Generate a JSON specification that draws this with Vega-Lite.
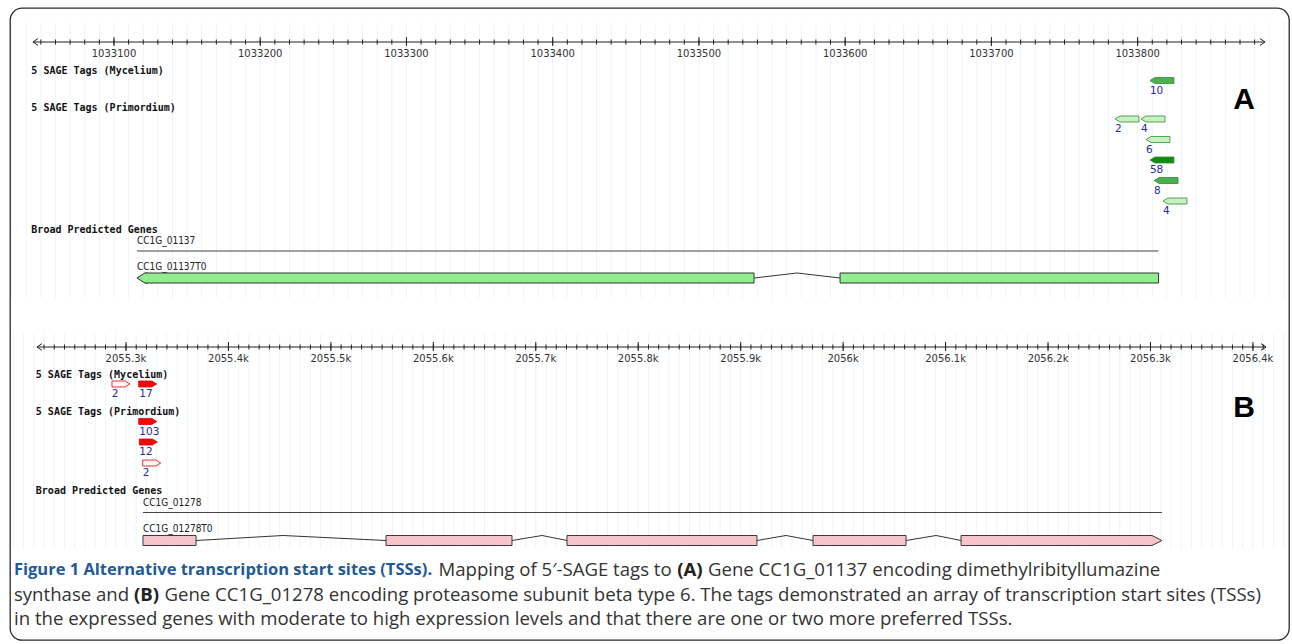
{
"$schema": "https://vega.github.io/schema/vega-lite/v6.json",
"width": 1292,
"height": 644,
"autosize": {"type": "fit", "contains": "padding"},
"padding": {"left": 10, "top": 8, "right": 3, "bottom": 4},
"background": "#ffffff",
"config": {"view": {"stroke": "#2b2b2b", "strokeWidth": 1.3, "cornerRadius": 12}},
"resolve": {"scale": {"x": "independent", "fill": "independent"}, "axis": {"x": "independent"}},
"datasets": {
"gridA": [{"g":1033030},{"g":1033040},{"g":1033050},{"g":1033060},{"g":1033070},{"g":1033080},{"g":1033090},
{"g":1033100},{"g":1033110},{"g":1033120},{"g":1033130},{"g":1033140},{"g":1033150},{"g":1033160},{"g":1033170},{"g":1033180},{"g":1033190},
{"g":1033200},{"g":1033210},{"g":1033220},{"g":1033230},{"g":1033240},{"g":1033250},{"g":1033260},{"g":1033270},{"g":1033280},{"g":1033290},
{"g":1033300},{"g":1033310},{"g":1033320},{"g":1033330},{"g":1033340},{"g":1033350},{"g":1033360},{"g":1033370},{"g":1033380},{"g":1033390},
{"g":1033400},{"g":1033410},{"g":1033420},{"g":1033430},{"g":1033440},{"g":1033450},{"g":1033460},{"g":1033470},{"g":1033480},{"g":1033490},
{"g":1033500},{"g":1033510},{"g":1033520},{"g":1033530},{"g":1033540},{"g":1033550},{"g":1033560},{"g":1033570},{"g":1033580},{"g":1033590},
{"g":1033600},{"g":1033610},{"g":1033620},{"g":1033630},{"g":1033640},{"g":1033650},{"g":1033660},{"g":1033670},{"g":1033680},{"g":1033690},
{"g":1033700},{"g":1033710},{"g":1033720},{"g":1033730},{"g":1033740},{"g":1033750},{"g":1033760},{"g":1033770},{"g":1033780},{"g":1033790},
{"g":1033800},{"g":1033810},{"g":1033820},{"g":1033830},{"g":1033840},{"g":1033850},{"g":1033860},{"g":1033870},{"g":1033880},{"g":1033890},
{"g":1033900}],
"gridB": [{"g":2055190},
{"g":2055200},{"g":2055210},{"g":2055220},{"g":2055230},{"g":2055240},{"g":2055250},{"g":2055260},{"g":2055270},{"g":2055280},{"g":2055290},
{"g":2055300},{"g":2055310},{"g":2055320},{"g":2055330},{"g":2055340},{"g":2055350},{"g":2055360},{"g":2055370},{"g":2055380},{"g":2055390},
{"g":2055400},{"g":2055410},{"g":2055420},{"g":2055430},{"g":2055440},{"g":2055450},{"g":2055460},{"g":2055470},{"g":2055480},{"g":2055490},
{"g":2055500},{"g":2055510},{"g":2055520},{"g":2055530},{"g":2055540},{"g":2055550},{"g":2055560},{"g":2055570},{"g":2055580},{"g":2055590},
{"g":2055600},{"g":2055610},{"g":2055620},{"g":2055630},{"g":2055640},{"g":2055650},{"g":2055660},{"g":2055670},{"g":2055680},{"g":2055690},
{"g":2055700},{"g":2055710},{"g":2055720},{"g":2055730},{"g":2055740},{"g":2055750},{"g":2055760},{"g":2055770},{"g":2055780},{"g":2055790},
{"g":2055800},{"g":2055810},{"g":2055820},{"g":2055830},{"g":2055840},{"g":2055850},{"g":2055860},{"g":2055870},{"g":2055880},{"g":2055890},
{"g":2055900},{"g":2055910},{"g":2055920},{"g":2055930},{"g":2055940},{"g":2055950},{"g":2055960},{"g":2055970},{"g":2055980},{"g":2055990},
{"g":2056000},{"g":2056010},{"g":2056020},{"g":2056030},{"g":2056040},{"g":2056050},{"g":2056060},{"g":2056070},{"g":2056080},{"g":2056090},
{"g":2056100},{"g":2056110},{"g":2056120},{"g":2056130},{"g":2056140},{"g":2056150},{"g":2056160},{"g":2056170},{"g":2056180},{"g":2056190},
{"g":2056200},{"g":2056210},{"g":2056220},{"g":2056230},{"g":2056240},{"g":2056250},{"g":2056260},{"g":2056270},{"g":2056280},{"g":2056290},
{"g":2056300},{"g":2056310},{"g":2056320},{"g":2056330},{"g":2056340},{"g":2056350},{"g":2056360},{"g":2056370},{"g":2056380},{"g":2056390},
{"g":2056400},{"g":2056410},{"g":2056420},{"g":2056430}],
"majorA": [{"g":1033100,"label":"1033100"},{"g":1033200,"label":"1033200"},{"g":1033300,"label":"1033300"},{"g":1033400,"label":"1033400"},{"g":1033500,"label":"1033500"},{"g":1033600,"label":"1033600"},{"g":1033700,"label":"1033700"},{"g":1033800,"label":"1033800"}],
"majorB": [{"g":2055300,"label":"2055.3k"},{"g":2055400,"label":"2055.4k"},{"g":2055500,"label":"2055.5k"},{"g":2055600,"label":"2055.6k"},{"g":2055700,"label":"2055.7k"},{"g":2055800,"label":"2055.8k"},{"g":2055900,"label":"2055.9k"},{"g":2056000,"label":"2056k"},{"g":2056100,"label":"2056.1k"},{"g":2056200,"label":"2056.2k"},{"g":2056300,"label":"2056.3k"},{"g":2056400,"label":"2056.4k"}],
"axisA": [{"from": 1033044.6, "to": 1033887.1}],
"axisB": [{"from": 2055213.1, "to": 2056412.8}],
"axisEndsA": [{"pos": 1033044.6, "dir": "left"}, {"pos": 1033887.1, "dir": "right"}],
"axisEndsB": [{"pos": 2055213.1, "dir": "left"}, {"pos": 2056412.8, "dir": "right"}],
"tracksA": [{"text": "5 SAGE Tags (Mycelium)", "lane": 6.3}, {"text": "5 SAGE Tags (Primordium)", "lane": 10.0}, {"text": "Broad Predicted Genes", "lane": 22.2}],
"tracksB": [{"text": "5 SAGE Tags (Mycelium)", "lane": 36.7}, {"text": "5 SAGE Tags (Primordium)", "lane": 40.4}, {"text": "Broad Predicted Genes", "lane": 48.3}],
"tagsA": [
{"library": "Mycelium", "count": 10, "start": 1033808.4, "end": 1033824.9, "lane": 7.25},
{"library": "Primordium", "count": 2, "start": 1033784.5, "end": 1033800.2, "lane": 11.1},
{"library": "Primordium", "count": 4, "start": 1033802.3, "end": 1033818.0, "lane": 11.1},
{"library": "Primordium", "count": 6, "start": 1033805.7, "end": 1033821.4, "lane": 13.15},
{"library": "Primordium", "count": 58, "start": 1033808.4, "end": 1033824.9, "lane": 15.2},
{"library": "Primordium", "count": 8, "start": 1033811.2, "end": 1033827.6, "lane": 17.25},
{"library": "Primordium", "count": 4, "start": 1033817.3, "end": 1033834.4, "lane": 19.3}],
"tagsB": [
{"library": "Mycelium", "count": 2, "start": 2055286.1, "end": 2055303.9, "lane": 37.6},
{"library": "Mycelium", "count": 17, "start": 2055313.0, "end": 2055330.0, "lane": 37.6},
{"library": "Primordium", "count": 103, "start": 2055313.0, "end": 2055330.0, "lane": 41.35},
{"library": "Primordium", "count": 12, "start": 2055313.0, "end": 2055330.6, "lane": 43.4},
{"library": "Primordium", "count": 2, "start": 2055316.3, "end": 2055333.9, "lane": 45.5}],
"geneA": [{"gene": "CC1G_01137", "start": 1033115.7, "end": 1033814.3}],
"geneB": [{"gene": "CC1G_01278", "start": 2055316.6, "end": 2056311.2}],
"labelsA": [{"text": "CC1G_01137", "pos": 1033115.7, "lane": 23.3}, {"text": "CC1G_01137T0", "pos": 1033115.7, "lane": 25.9}],
"labelsB": [{"text": "CC1G_01278", "pos": 2055316.6, "lane": 49.5}, {"text": "CC1G_01278T0", "pos": 2055316.6, "lane": 52.1}],
"exonsA": [{"start": 1033121.2, "end": 1033537.7}, {"start": 1033596.5, "end": 1033814.3}],
"exonsB": [{"start": 2055316.6, "end": 2055368.4}, {"start": 2055553.8, "end": 2055676.8}, {"start": 2055730.5, "end": 2055915.9}, {"start": 2055970.6, "end": 2056061.4}, {"start": 2056115.1, "end": 2056301.5}],
"intronsA": [{"a": 1033537.7, "m": 1033567.1, "b": 1033596.5}],
"intronsB": [{"a": 2055368.4, "m": 2055453.3, "b": 2055553.8}, {"a": 2055676.8, "m": 2055706.1, "b": 2055730.5}, {"a": 2055915.9, "m": 2055944.2, "b": 2055970.6}, {"a": 2056061.4, "m": 2056090.7, "b": 2056115.1}],
"tipA": [{"pos": 1033115.7}],
"tipB": [{"pos": 2056311.2}],
"caption": [
{"id": "h1", "lane": 56.2, "text": "Figure 1 Alternative transcription start sites (TSSs)."},
{"id": "r1", "lane": 56.2, "text": "Mapping of 5′-SAGE tags to"},
{"id": "b1", "lane": 56.2, "text": "(A)"},
{"id": "s1", "lane": 56.2, "text": "Gene CC1G_01137 encoding dimethylribityllumazine"},
{"id": "r2", "lane": 58.7, "text": "synthase and"},
{"id": "b2", "lane": 58.7, "text": "(B)"},
{"id": "s2", "lane": 58.7, "text": "Gene CC1G_01278 encoding proteasome subunit beta type 6. The tags demonstrated an array of transcription start sites (TSSs)"},
{"id": "r3", "lane": 61.1, "text": "in the expressed genes with moderate to high expression levels and that there are one or two more preferred TSSs."}]
},
"layer": [
{
"layer": [
{"data": {"name": "gridA"}, "mark": {"type": "rule", "color": "#ebf5f9", "strokeWidth": 1},
 "encoding": {"x": {"field": "g", "type": "quantitative", "scale": {"domain": [1033028.9, 1033903.5], "nice": false, "zero": false}, "axis": null},
  "y": {"datum": 1.5, "type": "quantitative", "scale": {"domain": [0, 63.2], "reverse": true, "nice": false, "zero": false}, "axis": null}, "y2": {"datum": 29.0}}},
{"data": {"name": "gridA"}, "transform": [{"filter": {"field": "g", "range": [1033045, 1033887]}}], "mark": {"type": "rule", "color": "#222222", "strokeWidth": 1},
 "encoding": {"x": {"field": "g", "type": "quantitative", "scale": {"domain": [1033028.9, 1033903.5], "nice": false, "zero": false}, "axis": null},
  "y": {"datum": 3.15, "type": "quantitative", "scale": {"domain": [0, 63.2], "reverse": true, "nice": false, "zero": false}, "axis": null}, "y2": {"datum": 3.65}}},
{"data": {"name": "majorA"}, "mark": {"type": "rule", "color": "#222222", "strokeWidth": 1},
 "encoding": {"x": {"field": "g", "type": "quantitative", "scale": {"domain": [1033028.9, 1033903.5], "nice": false, "zero": false}, "axis": null},
  "y": {"datum": 2.9, "type": "quantitative", "scale": {"domain": [0, 63.2], "reverse": true, "nice": false, "zero": false}, "axis": null}, "y2": {"datum": 3.8}}},
{"data": {"name": "majorA"}, "mark": {"type": "text", "align": "center", "baseline": "middle", "font": "DejaVu Sans", "fontSize": 10, "color": "#333333"},
 "encoding": {"x": {"field": "g", "type": "quantitative", "scale": {"domain": [1033028.9, 1033903.5], "nice": false, "zero": false}, "axis": null},
  "y": {"datum": 4.55, "type": "quantitative", "scale": {"domain": [0, 63.2], "reverse": true, "nice": false, "zero": false}, "axis": null},
  "text": {"field": "label"}}},
{"data": {"name": "axisA"}, "mark": {"type": "rule", "color": "#222222", "strokeWidth": 1},
 "encoding": {"x": {"field": "from", "type": "quantitative", "scale": {"domain": [1033028.9, 1033903.5], "nice": false, "zero": false}, "axis": null},
  "x2": {"field": "to"},
  "y": {"datum": 3.4, "type": "quantitative", "scale": {"domain": [0, 63.2], "reverse": true, "nice": false, "zero": false}, "axis": null}}},
{"data": {"name": "axisEndsA"}, "mark": {"type": "point", "filled": false, "size": 44, "color": "#222222", "strokeWidth": 1, "opacity": 1},
 "encoding": {"x": {"field": "pos", "type": "quantitative", "scale": {"domain": [1033028.9, 1033903.5], "nice": false, "zero": false}, "axis": null},
  "y": {"datum": 3.4, "type": "quantitative", "scale": {"domain": [0, 63.2], "reverse": true, "nice": false, "zero": false}, "axis": null},
  "shape": {"field": "dir", "type": "nominal", "scale": {"domain": ["left", "right"], "range": ["M1.5,-1L0,0L1.5,1", "M-1.5,-1L0,0L-1.5,1"]}, "legend": null}}},
{"data": {"name": "tracksA"}, "mark": {"type": "text", "align": "left", "baseline": "middle", "font": "DejaVu Sans Mono", "fontSize": 10, "fontWeight": "bold", "color": "#111111"},
 "encoding": {"x": {"datum": 1033043.5, "type": "quantitative", "scale": {"domain": [1033028.9, 1033903.5], "nice": false, "zero": false}, "axis": null},
  "y": {"field": "lane", "type": "quantitative", "scale": {"domain": [0, 63.2], "reverse": true, "nice": false, "zero": false}, "axis": null},
  "text": {"field": "text"}}},
{"data": {"name": "tagsA"}, "mark": {"type": "point", "shape": "M0,0L0.42,-0.25L2,-0.25L2,0.25L0.42,0.25Z", "size": 576, "filled": true, "opacity": 1, "stroke": "#2f8f2f", "strokeWidth": 0.8},
 "encoding": {"x": {"field": "start", "type": "quantitative", "scale": {"domain": [1033028.9, 1033903.5], "nice": false, "zero": false}, "axis": null},
  "y": {"field": "lane", "type": "quantitative", "scale": {"domain": [0, 63.2], "reverse": true, "nice": false, "zero": false}, "axis": null},
  "fill": {"field": "count", "type": "quantitative", "scale": {"type": "threshold", "domain": [7, 30], "range": ["#c8f0c2", "#4caf50", "#138a13"]}, "legend": null}}},
{"data": {"name": "tagsA"}, "mark": {"type": "text", "align": "left", "baseline": "middle", "dy": 10, "font": "DejaVu Sans", "fontSize": 10.5, "color": "#2b2b9a"},
 "encoding": {"x": {"field": "start", "type": "quantitative", "scale": {"domain": [1033028.9, 1033903.5], "nice": false, "zero": false}, "axis": null},
  "y": {"field": "lane", "type": "quantitative", "scale": {"domain": [0, 63.2], "reverse": true, "nice": false, "zero": false}, "axis": null},
  "text": {"field": "count"}}},
{"data": {"values": [{"panel": "A"}]}, "mark": {"type": "text", "align": "center", "baseline": "middle", "font": "Liberation Sans", "fontSize": 30, "fontWeight": "bold", "color": "#000000"},
 "encoding": {"x": {"datum": 1033872.7, "type": "quantitative", "scale": {"domain": [1033028.9, 1033903.5], "nice": false, "zero": false}, "axis": null},
  "y": {"datum": 9.15, "type": "quantitative", "scale": {"domain": [0, 63.2], "reverse": true, "nice": false, "zero": false}, "axis": null},
  "text": {"field": "panel"}}},
{"data": {"name": "geneA"}, "mark": {"type": "rule", "color": "#444444", "strokeWidth": 1.2},
 "encoding": {"x": {"field": "start", "type": "quantitative", "scale": {"domain": [1033028.9, 1033903.5], "nice": false, "zero": false}, "axis": null},
  "x2": {"field": "end"},
  "y": {"datum": 24.3, "type": "quantitative", "scale": {"domain": [0, 63.2], "reverse": true, "nice": false, "zero": false}, "axis": null}}},
{"data": {"name": "labelsA"}, "mark": {"type": "text", "align": "left", "baseline": "middle", "font": "DejaVu Sans Condensed", "fontSize": 10, "color": "#222222"},
 "encoding": {"x": {"field": "pos", "type": "quantitative", "scale": {"domain": [1033028.9, 1033903.5], "nice": false, "zero": false}, "axis": null},
  "y": {"field": "lane", "type": "quantitative", "scale": {"domain": [0, 63.2], "reverse": true, "nice": false, "zero": false}, "axis": null},
  "text": {"field": "text"}}},
{"data": {"name": "intronsA"}, "mark": {"type": "rule", "color": "#333333", "strokeWidth": 1},
 "encoding": {"x": {"field": "a", "type": "quantitative", "scale": {"domain": [1033028.9, 1033903.5], "nice": false, "zero": false}, "axis": null},
  "x2": {"field": "m"},
  "y": {"datum": 27.0, "type": "quantitative", "scale": {"domain": [0, 63.2], "reverse": true, "nice": false, "zero": false}, "axis": null}, "y2": {"datum": 26.5}}},
{"data": {"name": "intronsA"}, "mark": {"type": "rule", "color": "#333333", "strokeWidth": 1},
 "encoding": {"x": {"field": "m", "type": "quantitative", "scale": {"domain": [1033028.9, 1033903.5], "nice": false, "zero": false}, "axis": null},
  "x2": {"field": "b"},
  "y": {"datum": 26.5, "type": "quantitative", "scale": {"domain": [0, 63.2], "reverse": true, "nice": false, "zero": false}, "axis": null}, "y2": {"datum": 27.0}}},
{"data": {"name": "exonsA"}, "mark": {"type": "rect", "fill": "#90ee90", "stroke": "#333333", "strokeWidth": 1},
 "encoding": {"x": {"field": "start", "type": "quantitative", "scale": {"domain": [1033028.9, 1033903.5], "nice": false, "zero": false}, "axis": null},
  "x2": {"field": "end"},
  "y": {"datum": 26.5, "type": "quantitative", "scale": {"domain": [0, 63.2], "reverse": true, "nice": false, "zero": false}, "axis": null}, "y2": {"datum": 27.5}}},
{"data": {"name": "tipA"}, "mark": {"type": "point", "shape": "M2.2,-1L1.6,-1L0,0L1.6,1L2.2,1", "size": 100, "filled": true, "fill": "#90ee90", "stroke": "#333333", "strokeWidth": 1, "opacity": 1},
 "encoding": {"x": {"field": "pos", "type": "quantitative", "scale": {"domain": [1033028.9, 1033903.5], "nice": false, "zero": false}, "axis": null},
  "y": {"datum": 27.0, "type": "quantitative", "scale": {"domain": [0, 63.2], "reverse": true, "nice": false, "zero": false}, "axis": null}}},
{"data": {"name": "caption"}, "transform": [{"filter": "datum.id === 'h1'"}], "mark": {"type": "text", "align": "left", "baseline": "middle", "font": "Open Sans", "fontSize": 16.5, "fontWeight": "bold", "color": "#1f5b98"},
 "encoding": {"x": {"datum": 1033031.6, "type": "quantitative", "scale": {"domain": [1033028.9, 1033903.5], "nice": false, "zero": false}, "axis": null},
  "y": {"field": "lane", "type": "quantitative", "scale": {"domain": [0, 63.2], "reverse": true, "nice": false, "zero": false}, "axis": null}, "text": {"field": "text"}}},
{"data": {"name": "caption"}, "transform": [{"filter": "datum.id === 'r1'"}], "mark": {"type": "text", "align": "left", "baseline": "middle", "dx": 424.5, "font": "Open Sans", "fontSize": 18.6, "color": "#333333"},
 "encoding": {"x": {"datum": 1033031.6, "type": "quantitative", "scale": {"domain": [1033028.9, 1033903.5], "nice": false, "zero": false}, "axis": null},
  "y": {"field": "lane", "type": "quantitative", "scale": {"domain": [0, 63.2], "reverse": true, "nice": false, "zero": false}, "axis": null}, "text": {"field": "text"}}},
{"data": {"name": "caption"}, "transform": [{"filter": "datum.id === 'b1'"}], "mark": {"type": "text", "align": "left", "baseline": "middle", "dx": 663.2, "font": "Open Sans", "fontSize": 18.6, "fontWeight": "bold", "color": "#222222"},
 "encoding": {"x": {"datum": 1033031.6, "type": "quantitative", "scale": {"domain": [1033028.9, 1033903.5], "nice": false, "zero": false}, "axis": null},
  "y": {"field": "lane", "type": "quantitative", "scale": {"domain": [0, 63.2], "reverse": true, "nice": false, "zero": false}, "axis": null}, "text": {"field": "text"}}},
{"data": {"name": "caption"}, "transform": [{"filter": "datum.id === 's1'"}], "mark": {"type": "text", "align": "left", "baseline": "middle", "dx": 694.0, "font": "Open Sans", "fontSize": 18.6, "color": "#333333"},
 "encoding": {"x": {"datum": 1033031.6, "type": "quantitative", "scale": {"domain": [1033028.9, 1033903.5], "nice": false, "zero": false}, "axis": null},
  "y": {"field": "lane", "type": "quantitative", "scale": {"domain": [0, 63.2], "reverse": true, "nice": false, "zero": false}, "axis": null}, "text": {"field": "text"}}},
{"data": {"name": "caption"}, "transform": [{"filter": "datum.id === 'r2' || datum.id === 'r3'"}], "mark": {"type": "text", "align": "left", "baseline": "middle", "font": "Open Sans", "fontSize": 18.6, "color": "#333333"},
 "encoding": {"x": {"datum": 1033031.6, "type": "quantitative", "scale": {"domain": [1033028.9, 1033903.5], "nice": false, "zero": false}, "axis": null},
  "y": {"field": "lane", "type": "quantitative", "scale": {"domain": [0, 63.2], "reverse": true, "nice": false, "zero": false}, "axis": null}, "text": {"field": "text"}}},
{"data": {"name": "caption"}, "transform": [{"filter": "datum.id === 'b2'"}], "mark": {"type": "text", "align": "left", "baseline": "middle", "dx": 120.1, "font": "Open Sans", "fontSize": 18.6, "fontWeight": "bold", "color": "#222222"},
 "encoding": {"x": {"datum": 1033031.6, "type": "quantitative", "scale": {"domain": [1033028.9, 1033903.5], "nice": false, "zero": false}, "axis": null},
  "y": {"field": "lane", "type": "quantitative", "scale": {"domain": [0, 63.2], "reverse": true, "nice": false, "zero": false}, "axis": null}, "text": {"field": "text"}}},
{"data": {"name": "caption"}, "transform": [{"filter": "datum.id === 's2'"}], "mark": {"type": "text", "align": "left", "baseline": "middle", "dx": 150.5, "font": "Open Sans", "fontSize": 18.6, "color": "#333333"},
 "encoding": {"x": {"datum": 1033031.6, "type": "quantitative", "scale": {"domain": [1033028.9, 1033903.5], "nice": false, "zero": false}, "axis": null},
  "y": {"field": "lane", "type": "quantitative", "scale": {"domain": [0, 63.2], "reverse": true, "nice": false, "zero": false}, "axis": null}, "text": {"field": "text"}}}
]
},
{
"layer": [
{"data": {"name": "gridB"}, "mark": {"type": "rule", "color": "#ebf5f9", "strokeWidth": 1},
 "encoding": {"x": {"field": "g", "type": "quantitative", "scale": {"domain": [2055186.8, 2056435.2], "nice": false, "zero": false}, "axis": null},
  "y": {"datum": 32.6, "type": "quantitative", "scale": {"domain": [0, 63.2], "reverse": true, "nice": false, "zero": false}, "axis": null}, "y2": {"datum": 54.0}}},
{"data": {"name": "gridB"}, "transform": [{"filter": {"field": "g", "range": [2055214, 2056412]}}], "mark": {"type": "rule", "color": "#222222", "strokeWidth": 1},
 "encoding": {"x": {"field": "g", "type": "quantitative", "scale": {"domain": [2055186.8, 2056435.2], "nice": false, "zero": false}, "axis": null},
  "y": {"datum": 33.65, "type": "quantitative", "scale": {"domain": [0, 63.2], "reverse": true, "nice": false, "zero": false}, "axis": null}, "y2": {"datum": 34.15}}},
{"data": {"name": "majorB"}, "mark": {"type": "rule", "color": "#222222", "strokeWidth": 1},
 "encoding": {"x": {"field": "g", "type": "quantitative", "scale": {"domain": [2055186.8, 2056435.2], "nice": false, "zero": false}, "axis": null},
  "y": {"datum": 33.4, "type": "quantitative", "scale": {"domain": [0, 63.2], "reverse": true, "nice": false, "zero": false}, "axis": null}, "y2": {"datum": 34.3}}},
{"data": {"name": "majorB"}, "mark": {"type": "text", "align": "center", "baseline": "middle", "font": "DejaVu Sans", "fontSize": 10, "color": "#333333"},
 "encoding": {"x": {"field": "g", "type": "quantitative", "scale": {"domain": [2055186.8, 2056435.2], "nice": false, "zero": false}, "axis": null},
  "y": {"datum": 35.1, "type": "quantitative", "scale": {"domain": [0, 63.2], "reverse": true, "nice": false, "zero": false}, "axis": null},
  "text": {"field": "label"}}},
{"data": {"name": "axisB"}, "mark": {"type": "rule", "color": "#222222", "strokeWidth": 1},
 "encoding": {"x": {"field": "from", "type": "quantitative", "scale": {"domain": [2055186.8, 2056435.2], "nice": false, "zero": false}, "axis": null},
  "x2": {"field": "to"},
  "y": {"datum": 33.9, "type": "quantitative", "scale": {"domain": [0, 63.2], "reverse": true, "nice": false, "zero": false}, "axis": null}}},
{"data": {"name": "axisEndsB"}, "mark": {"type": "point", "filled": false, "size": 44, "color": "#222222", "strokeWidth": 1, "opacity": 1},
 "encoding": {"x": {"field": "pos", "type": "quantitative", "scale": {"domain": [2055186.8, 2056435.2], "nice": false, "zero": false}, "axis": null},
  "y": {"datum": 33.9, "type": "quantitative", "scale": {"domain": [0, 63.2], "reverse": true, "nice": false, "zero": false}, "axis": null},
  "shape": {"field": "dir", "type": "nominal", "scale": {"domain": ["left", "right"], "range": ["M1.5,-1L0,0L1.5,1", "M-1.5,-1L0,0L-1.5,1"]}, "legend": null}}},
{"data": {"name": "tracksB"}, "mark": {"type": "text", "align": "left", "baseline": "middle", "font": "DejaVu Sans Mono", "fontSize": 10, "fontWeight": "bold", "color": "#111111"},
 "encoding": {"x": {"datum": 2055212.0, "type": "quantitative", "scale": {"domain": [2055186.8, 2056435.2], "nice": false, "zero": false}, "axis": null},
  "y": {"field": "lane", "type": "quantitative", "scale": {"domain": [0, 63.2], "reverse": true, "nice": false, "zero": false}, "axis": null},
  "text": {"field": "text"}}},
{"data": {"name": "tagsB"}, "mark": {"type": "point", "shape": "M0,0L-0.55,-0.333L-2,-0.333L-2,0.333L-0.55,0.333Z", "size": 324, "filled": true, "opacity": 1, "stroke": "#e00000", "strokeWidth": 0.8},
 "encoding": {"x": {"field": "end", "type": "quantitative", "scale": {"domain": [2055186.8, 2056435.2], "nice": false, "zero": false}, "axis": null},
  "y": {"field": "lane", "type": "quantitative", "scale": {"domain": [0, 63.2], "reverse": true, "nice": false, "zero": false}, "axis": null},
  "fill": {"field": "count", "type": "quantitative", "scale": {"type": "threshold", "domain": [5], "range": ["#fff4f4", "#ee0a0a"]}, "legend": null}}},
{"data": {"name": "tagsB"}, "mark": {"type": "text", "align": "left", "baseline": "middle", "dy": 10, "font": "DejaVu Sans", "fontSize": 10.5, "color": "#2b2b9a"},
 "encoding": {"x": {"field": "start", "type": "quantitative", "scale": {"domain": [2055186.8, 2056435.2], "nice": false, "zero": false}, "axis": null},
  "y": {"field": "lane", "type": "quantitative", "scale": {"domain": [0, 63.2], "reverse": true, "nice": false, "zero": false}, "axis": null},
  "text": {"field": "count"}}},
{"data": {"values": [{"panel": "B"}]}, "mark": {"type": "text", "align": "center", "baseline": "middle", "font": "Liberation Sans", "fontSize": 30, "fontWeight": "bold", "color": "#000000"},
 "encoding": {"x": {"datum": 2056391.3, "type": "quantitative", "scale": {"domain": [2055186.8, 2056435.2], "nice": false, "zero": false}, "axis": null},
  "y": {"datum": 40.0, "type": "quantitative", "scale": {"domain": [0, 63.2], "reverse": true, "nice": false, "zero": false}, "axis": null},
  "text": {"field": "panel"}}},
{"data": {"name": "geneB"}, "mark": {"type": "rule", "color": "#444444", "strokeWidth": 1.2},
 "encoding": {"x": {"field": "start", "type": "quantitative", "scale": {"domain": [2055186.8, 2056435.2], "nice": false, "zero": false}, "axis": null},
  "x2": {"field": "end"},
  "y": {"datum": 50.45, "type": "quantitative", "scale": {"domain": [0, 63.2], "reverse": true, "nice": false, "zero": false}, "axis": null}}},
{"data": {"name": "labelsB"}, "mark": {"type": "text", "align": "left", "baseline": "middle", "font": "DejaVu Sans Condensed", "fontSize": 10, "color": "#222222"},
 "encoding": {"x": {"field": "pos", "type": "quantitative", "scale": {"domain": [2055186.8, 2056435.2], "nice": false, "zero": false}, "axis": null},
  "y": {"field": "lane", "type": "quantitative", "scale": {"domain": [0, 63.2], "reverse": true, "nice": false, "zero": false}, "axis": null},
  "text": {"field": "text"}}},
{"data": {"name": "intronsB"}, "mark": {"type": "rule", "color": "#333333", "strokeWidth": 1},
 "encoding": {"x": {"field": "a", "type": "quantitative", "scale": {"domain": [2055186.8, 2056435.2], "nice": false, "zero": false}, "axis": null},
  "x2": {"field": "m"},
  "y": {"datum": 53.25, "type": "quantitative", "scale": {"domain": [0, 63.2], "reverse": true, "nice": false, "zero": false}, "axis": null}, "y2": {"datum": 52.75}}},
{"data": {"name": "intronsB"}, "mark": {"type": "rule", "color": "#333333", "strokeWidth": 1},
 "encoding": {"x": {"field": "m", "type": "quantitative", "scale": {"domain": [2055186.8, 2056435.2], "nice": false, "zero": false}, "axis": null},
  "x2": {"field": "b"},
  "y": {"datum": 52.75, "type": "quantitative", "scale": {"domain": [0, 63.2], "reverse": true, "nice": false, "zero": false}, "axis": null}, "y2": {"datum": 53.25}}},
{"data": {"name": "exonsB"}, "mark": {"type": "rect", "fill": "#f8c4cc", "stroke": "#3a3a3a", "strokeWidth": 1},
 "encoding": {"x": {"field": "start", "type": "quantitative", "scale": {"domain": [2055186.8, 2056435.2], "nice": false, "zero": false}, "axis": null},
  "x2": {"field": "end"},
  "y": {"datum": 52.75, "type": "quantitative", "scale": {"domain": [0, 63.2], "reverse": true, "nice": false, "zero": false}, "axis": null}, "y2": {"datum": 53.75}}},
{"data": {"name": "tipB"}, "mark": {"type": "point", "shape": "M-2.2,-1L-2,-1L0,0L-2,1L-2.2,1", "size": 100, "filled": true, "fill": "#f8c4cc", "stroke": "#3a3a3a", "strokeWidth": 1, "opacity": 1},
 "encoding": {"x": {"field": "pos", "type": "quantitative", "scale": {"domain": [2055186.8, 2056435.2], "nice": false, "zero": false}, "axis": null},
  "y": {"datum": 53.25, "type": "quantitative", "scale": {"domain": [0, 63.2], "reverse": true, "nice": false, "zero": false}, "axis": null}}}
]
}
]
}
